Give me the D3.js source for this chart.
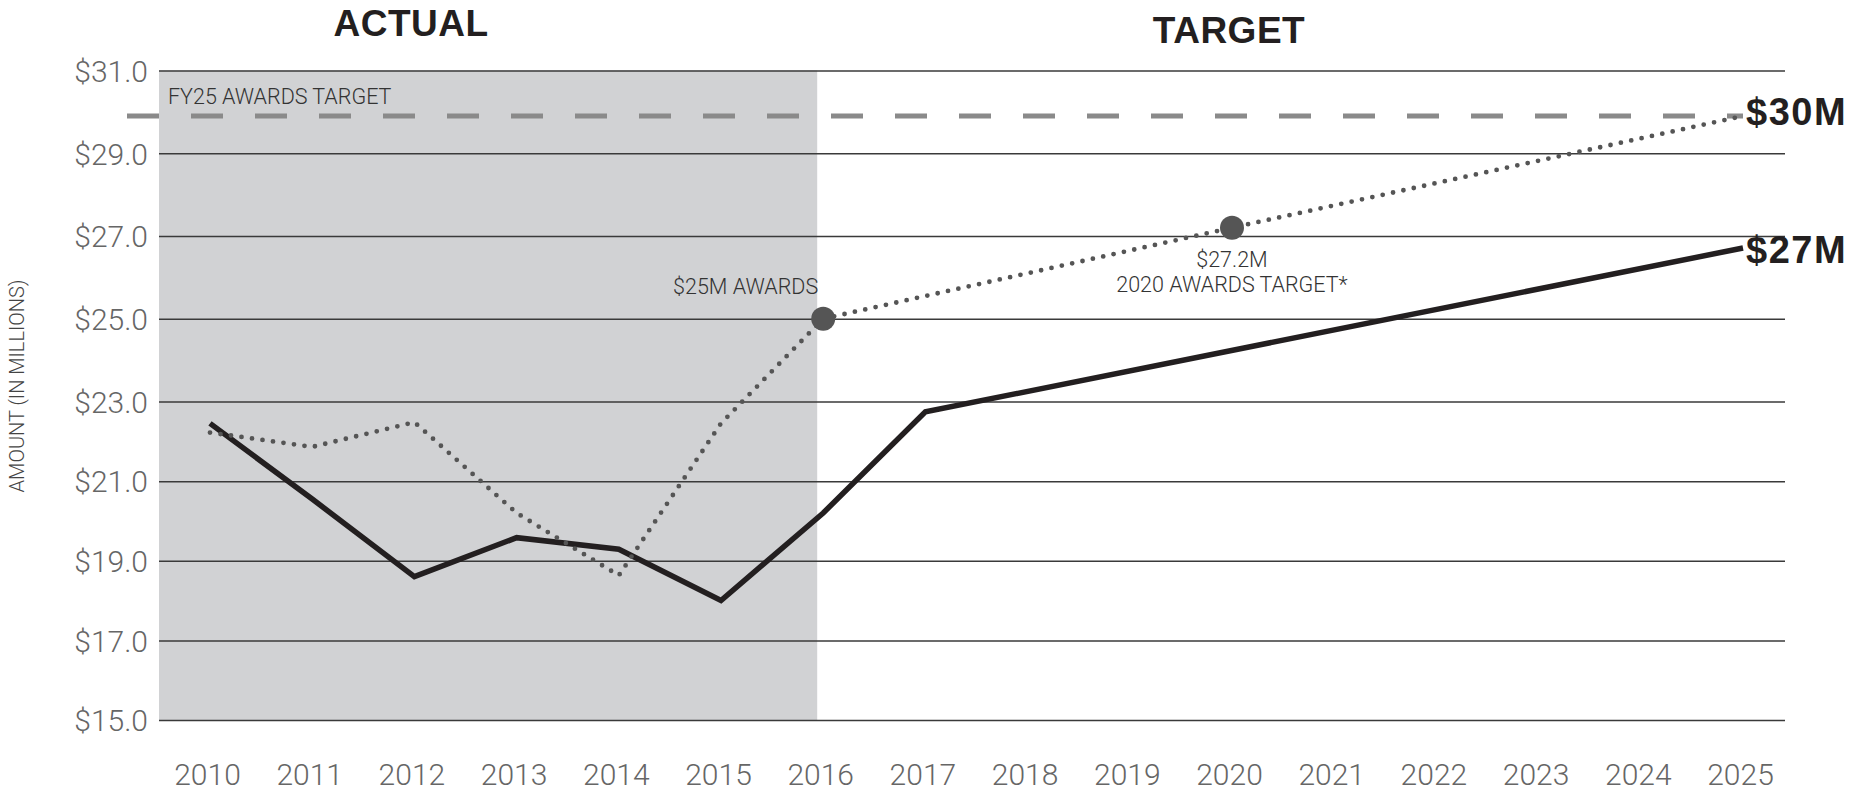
<!DOCTYPE html>
<html>
<head>
<meta charset="utf-8" />
<title>Awards: Actual vs Target</title>
<style>
	body { margin: 0; background: #fff; }
	svg { display: block; }
	.light { font-family: 'Roboto', 'Liberation Sans', sans-serif; font-weight: 300; }
	.head { font-family: 'Liberation Sans', Arial, sans-serif; font-weight: bold; fill: #231f20; }
	.grid line { stroke: #3a3a3a; stroke-width: 1.5px; }
	.grid .domain { display: none; }
</style>
</head>
<body>
<script src="https://cdn.jsdelivr.net/npm/d3@7"></script>
<script>
// data
var years = [2010, 2011, 2012, 2013, 2014, 2015, 2016, 2017, 2018, 2019, 2020, 2021, 2022, 2023, 2024, 2025];
var yTicks = [15, 17, 19, 21, 23, 25, 27, 29, 31];
var actualYears = [2010, 2011, 2012, 2013, 2014, 2015, 2016, 2017, 2025];
var actualValues = [22.45, 20.55, 18.6, 19.58, 19.29, 18.0, 20.2, 22.74, 26.71];
var awardYears = [2010, 2011, 2012, 2013, 2014, 2015, 2016, 2020, 2025];
var awardValues = [22.22, 21.86, 22.48, 20.2, 18.63, 22.45, 25.0, 27.2, 29.9];
var milestoneYears = [2016, 2020];
var milestoneValues = [25.0, 27.2];
var fy25Target = 29.9;
var lastActualYear = 2016;

var width = 1860, height = 793;
var plotLeft = 159, plotRight = 1785;

var svg = d3.select("body").append("svg")
	.attr("width", width)
	.attr("height", height);

var x = d3.scaleLinear().domain([2010, 2025]).range([210, 1743]);
// chart's grid spacing is a bit wider above $23 than below
var y = d3.scaleLinear().domain([15, 23, 31]).range([720, 401.5, 70.5]);

// shaded "actual" period
svg.append("rect")
	.attr("x", plotLeft)
	.attr("y", y(31))
	.attr("width", x(lastActualYear) - 6 - plotLeft)
	.attr("height", y(15) - y(31))
	.attr("fill", "#d1d2d4");

// y axis + gridlines
var yAxis = svg.append("g")
	.attr("class", "grid light")
	.attr("transform", "translate(" + plotLeft + ",0)")
	.call(d3.axisLeft(y)
		.tickValues(yTicks)
		.tickSize(-(plotRight - plotLeft))
		.tickPadding(11)
		.tickFormat(function(d) { return "$" + d.toFixed(1); }));
yAxis.selectAll("text")
	.attr("font-size", 30)
	.attr("font-family", "Roboto, 'Liberation Sans', sans-serif")
	.attr("fill", "#666")
	.attr("dy", "0.36em");

// x axis labels
var xAxis = svg.append("g")
	.attr("class", "light")
	.attr("transform", "translate(-3,785)")
	.call(d3.axisBottom(x)
		.tickValues(years)
		.tickSize(0)
		.tickFormat(d3.format("d")));
xAxis.select(".domain").remove();
xAxis.selectAll("text")
	.attr("y", 0)
	.attr("dy", 0)
	.attr("font-size", 30)
	.attr("font-family", "Roboto, 'Liberation Sans', sans-serif")
	.attr("fill", "#666");

// FY25 target dashed line
svg.append("line")
	.attr("x1", plotLeft - 32)
	.attr("x2", x(2025))
	.attr("y1", y(fy25Target))
	.attr("y2", y(fy25Target))
	.attr("stroke", "#8a8a8a")
	.attr("stroke-width", 5)
	.attr("stroke-dasharray", "32 32");

svg.append("text")
	.attr("class", "light")
	.attr("x", 168)
	.attr("y", 104)
	.attr("font-size", 21.5)
	.attr("fill", "#333")
	.text("FY25 AWARDS TARGET");

// actual / target amount (solid)
var line = d3.line()
	.x(function(d) { return x(d[0]); })
	.y(function(d) { return y(d[1]); });

svg.append("path")
	.datum(d3.zip(actualYears, actualValues))
	.attr("d", line)
	.attr("fill", "none")
	.attr("stroke", "#231f20")
	.attr("stroke-width", 5.5)
	.attr("stroke-linejoin", "miter");

// awards (dotted)
svg.append("path")
	.datum(d3.zip(awardYears, awardValues))
	.attr("d", line)
	.attr("fill", "none")
	.attr("stroke", "#555")
	.attr("stroke-width", 4.8)
	.attr("stroke-linecap", "round")
	.attr("stroke-dasharray", "0 10.6");

svg.selectAll(".milestone")
	.data(d3.zip(milestoneYears, milestoneValues))
	.enter().append("circle")
	.attr("class", "milestone")
	.attr("cx", function(d) { return x(d[0]); })
	.attr("cy", function(d) { return y(d[1]); })
	.attr("r", 12)
	.attr("fill", "#555");

// annotations
svg.append("text")
	.attr("class", "light")
	.attr("x", x(2016) - 5)
	.attr("y", 294)
	.attr("text-anchor", "end")
	.attr("font-size", 21.5)
	.attr("fill", "#333")
	.text("$25M AWARDS");

svg.append("text")
	.attr("class", "light")
	.attr("x", x(2020))
	.attr("y", 267)
	.attr("text-anchor", "middle")
	.attr("font-size", 21.5)
	.attr("fill", "#333")
	.text("$27.2M");

svg.append("text")
	.attr("class", "light")
	.attr("x", x(2020))
	.attr("y", 292)
	.attr("text-anchor", "middle")
	.attr("font-size", 21.5)
	.attr("fill", "#333")
	.text("2020 AWARDS TARGET*");

// end labels
svg.append("text")
	.attr("class", "head")
	.attr("x", 1746)
	.attr("y", 125)
	.attr("font-size", 38)
	.attr("letter-spacing", 1.5)
	.text("$30M");

svg.append("text")
	.attr("class", "head")
	.attr("x", 1746)
	.attr("y", 263)
	.attr("font-size", 38)
	.attr("letter-spacing", 1.5)
	.text("$27M");

// section headers
svg.append("text")
	.attr("class", "head")
	.attr("x", 411)
	.attr("y", 36)
	.attr("text-anchor", "middle")
	.attr("font-size", 37)
	.attr("letter-spacing", 0.5)
	.text("ACTUAL");

svg.append("text")
	.attr("class", "head")
	.attr("x", 1229)
	.attr("y", 43)
	.attr("text-anchor", "middle")
	.attr("font-size", 37)
	.attr("letter-spacing", 0.5)
	.text("TARGET");

// y axis title
svg.append("text")
	.attr("class", "light")
	.attr("transform", "translate(24,386) rotate(-90)")
	.attr("text-anchor", "middle")
	.attr("font-size", 20)
	.attr("fill", "#444")
	.text("AMOUNT (IN MILLIONS)");
</script>
</body>
</html>
